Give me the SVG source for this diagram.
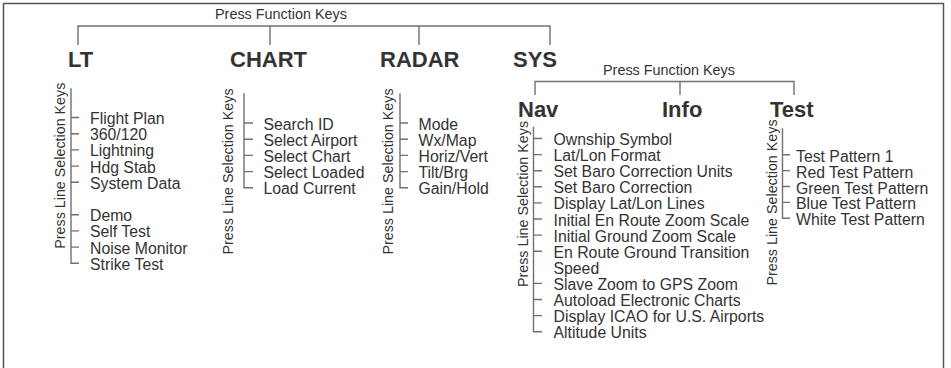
<svg xmlns="http://www.w3.org/2000/svg" width="951" height="368" viewBox="0 0 951 368">
<style>
text{font-family:"Liberation Sans",Arial,Helvetica,sans-serif;fill:#333}
.h{font-size:22px;font-weight:bold}
.pf{font-size:14.4px}
.it{font-size:15.8px}
.rl{font-size:14.3px;text-anchor:middle}
.ln{stroke:#707070;stroke-width:1.4;fill:none}
</style>
<rect x="3.5" y="3.5" width="940" height="380" fill="#fff" stroke="#555" stroke-width="1.5"/>
<g id="connectors" class="ln">
<path d="M78 45V26H550V45M270 26V45M419 26V45"/>
<path d="M535 95V81.5H794V95M680 81.5V95"/>
<path d="M71 88.3V263.3H79M71 117.5H79M71 133.7H79M71 149.9H79M71 166.1H79M71 182.3H79M71 214.7H79M71 230.9H79M71 247.1H79"/>
<path d="M244 93.3V187.8H253M244 123H253M244 139.2H253M244 155.4H253M244 171.6H253"/>
<path d="M400 93.3V187.8H408M400 123H408M400 139.2H408M400 155.4H408M400 171.6H408"/>
<path d="M533.5 126.7V331.7H542M533.5 138.5H542M533.5 154.6H542M533.5 170.7H542M533.5 186.8H542M533.5 202.9H542M533.5 219H542M533.5 235.1H542M533.5 251.2H542M533.5 283.4H542M533.5 299.5H542M533.5 315.6H542"/>
<path d="M782.5 128.3V218.3H790M782.5 154.7H790M782.5 170.6H790M782.5 186.5H790M782.5 202.4H790"/>
</g>
<g id="title-main"><text class="pf" x="215" y="19">Press Function Keys</text></g>
<g id="lt">
<text class="h" x="68" y="67">LT</text>
<text class="rl" transform="translate(65,165.7) rotate(-90)">Press Line Selection Keys</text>
<text class="it" x="90" y="124">Flight Plan</text>
<text class="it" x="90" y="140.2">360/120</text>
<text class="it" x="90" y="156.4">Lightning</text>
<text class="it" x="90" y="172.6">Hdg Stab</text>
<text class="it" x="90" y="188.8">System Data</text>
<text class="it" x="90" y="221.2">Demo</text>
<text class="it" x="90" y="237.4">Self Test</text>
<text class="it" x="90" y="253.6">Noise Monitor</text>
<text class="it" x="90" y="269.8">Strike Test</text>
</g>
<g id="chart">
<text class="h" x="230" y="67">CHART</text>
<text class="rl" transform="translate(233,171.5) rotate(-90)">Press Line Selection Keys</text>
<text class="it" x="263.5" y="129.5">Search ID</text>
<text class="it" x="263.5" y="145.7">Select Airport</text>
<text class="it" x="263.5" y="161.9">Select Chart</text>
<text class="it" x="263.5" y="178.1">Select Loaded</text>
<text class="it" x="263.5" y="194.3">Load Current</text>
</g>
<g id="radar">
<text class="h" x="380" y="67">RADAR</text>
<text class="rl" transform="translate(393,171.5) rotate(-90)">Press Line Selection Keys</text>
<text class="it" x="418.5" y="129.5">Mode</text>
<text class="it" x="418.5" y="145.7">Wx/Map</text>
<text class="it" x="418.5" y="161.9">Horiz/Vert</text>
<text class="it" x="418.5" y="178.1">Tilt/Brg</text>
<text class="it" x="418.5" y="194.3">Gain/Hold</text>
</g>
<g id="sys">
<text class="h" x="513" y="67">SYS</text>
<text class="pf" x="603" y="75">Press Function Keys</text>
</g>
<g id="nav">
<text class="h" x="518" y="117">Nav</text>
<text class="rl" transform="translate(528,204) rotate(-90)">Press Line Selection Keys</text>
<text class="it" x="553.5" y="145">Ownship Symbol</text>
<text class="it" x="553.5" y="161.1">Lat/Lon Format</text>
<text class="it" x="553.5" y="177.2">Set Baro Correction Units</text>
<text class="it" x="553.5" y="193.3">Set Baro Correction</text>
<text class="it" x="553.5" y="209.4">Display Lat/Lon Lines</text>
<text class="it" x="553.5" y="225.5">Initial En Route Zoom Scale</text>
<text class="it" x="553.5" y="241.6">Initial Ground Zoom Scale</text>
<text class="it" x="553.5" y="257.7">En Route Ground Transition</text>
<text class="it" x="553.5" y="273.8">Speed</text>
<text class="it" x="553.5" y="289.9">Slave Zoom to GPS Zoom</text>
<text class="it" x="553.5" y="306">Autoload Electronic Charts</text>
<text class="it" x="553.5" y="322.1">Display ICAO for U.S. Airports</text>
<text class="it" x="553.5" y="338.2">Altitude Units</text>
</g>
<g id="info">
<text class="h" x="662" y="117">Info</text>
</g>
<g id="test">
<text class="h" x="770" y="117">Test</text>
<text class="rl" transform="translate(777,202.5) rotate(-90)">Press Line Selection Keys</text>
<text class="it" x="796" y="161.7">Test Pattern 1</text>
<text class="it" x="796" y="177.6">Red Test Pattern</text>
<text class="it" x="796" y="193.5">Green Test Pattern</text>
<text class="it" x="796" y="209.4">Blue Test Pattern</text>
<text class="it" x="796" y="225.3">White Test Pattern</text>
</g>
</svg>
